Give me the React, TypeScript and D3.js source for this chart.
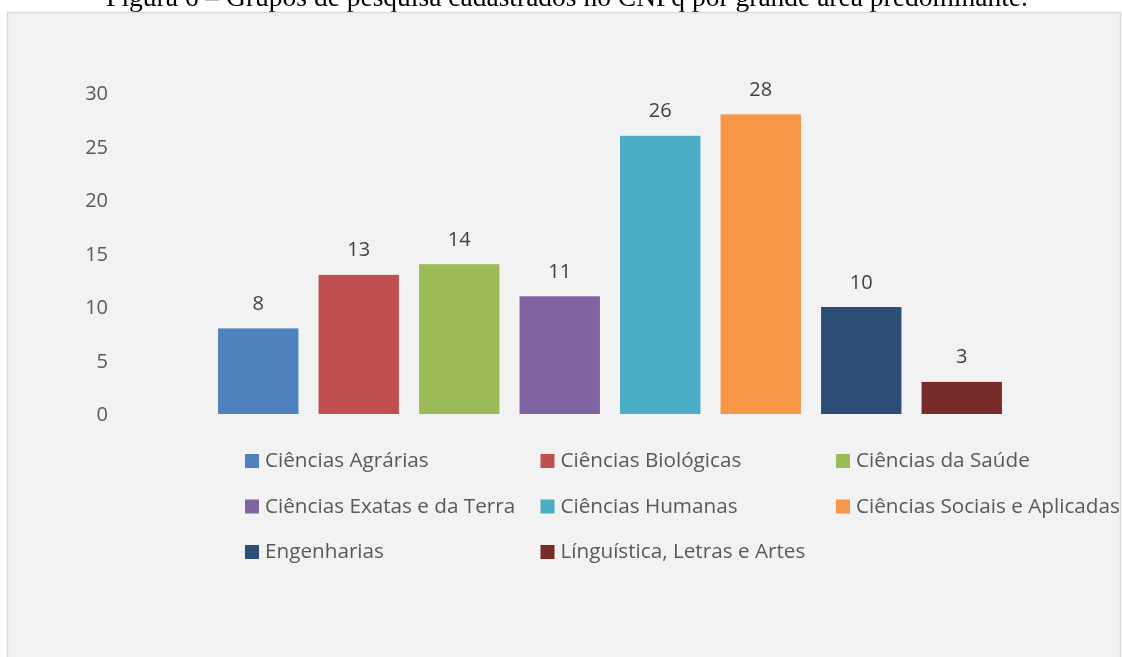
import { useEffect, useRef } from 'react'
import * as d3 from 'd3'

const categories = [
  'Ciências Agrárias',
  'Ciências Biológicas',
  'Ciências da Saúde',
  'Ciências Exatas e da Terra',
  'Ciências Humanas',
  'Ciências Sociais e Aplicadas',
  'Engenharias',
  'Línguística, Letras e Artes',
]
const values = [8, 13, 14, 11, 26, 28, 10, 3]
const yTicks = [0, 5, 10, 15, 20, 25, 30]
const title = 'Figura 6 – Grupos de pesquisa cadastrados no CNPq por grande área predominante.'

const palette = ['#4f81bd', '#c0504d', '#9bbb59', '#8064a2', '#4bacc6', '#f79646', '#2c4d75', '#772c2a']

export default function App() {
  const ref = useRef<SVGSVGElement>(null)

  useEffect(() => {
    const W = 1122
    const H = 657
    const svg = d3.select(ref.current)
    svg.selectAll('*').remove()
    svg.attr('width', W).attr('height', H)

    const font = "'Open Sans', sans-serif"

    svg.append('rect').attr('width', W).attr('height', H).attr('fill', '#ffffff')

    // caption, mostly cut off at the top
    svg.append('text')
      .attr('x', 567)
      .attr('y', 6)
      .attr('text-anchor', 'middle')
      .style('font-family', "'Liberation Serif', serif")
      .style('font-size', '27.5px')
      .style('fill', '#000')
      .text(title)

    // chart area
    svg.append('rect')
      .attr('x', 7.5)
      .attr('y', 12.5)
      .attr('width', 1113)
      .attr('height', 700)
      .attr('fill', '#f2f2f2')
      .attr('stroke', '#d9d9d9')
      .attr('stroke-width', 1.5)

    const x = d3.scaleBand<string>()
      .domain(categories)
      .range([208, 1012])
      .paddingInner(0.2)
      .paddingOuter(0.1)

    const y = d3.scaleLinear()
      .domain([0, 30])
      .range([414, 93])

    // Y axis labels
    svg.append('g')
      .selectAll('text')
      .data(yTicks)
      .join('text')
      .attr('x', 108)
      .attr('y', d => y(d) + 7)
      .attr('text-anchor', 'end')
      .style('font-family', font)
      .style('font-size', '20px')
      .style('fill', '#595959')
      .text(d => d)

    // bars
    svg.append('g')
      .selectAll('rect')
      .data(values)
      .join('rect')
      .attr('x', (d, i) => x(categories[i]) as number)
      .attr('y', d => y(d))
      .attr('width', x.bandwidth())
      .attr('height', d => y(0) - y(d))
      .attr('fill', (d, i) => palette[i])

    // value labels
    svg.append('g')
      .selectAll('text')
      .data(values)
      .join('text')
      .attr('x', (d, i) => (x(categories[i]) as number) + x.bandwidth() / 2)
      .attr('y', d => y(d) - 18.5)
      .attr('text-anchor', 'middle')
      .style('font-family', font)
      .style('font-size', '20px')
      .style('fill', '#404040')
      .text(d => d)

    // legend
    const legend = svg.append('g')
    const item = legend.selectAll('g')
      .data(categories)
      .join('g')
      .attr('transform', (d, i) => `translate(${245 + (i % 3) * 295.5}, ${467 + Math.floor(i / 3) * 45.5})`)

    item.append('rect')
      .attr('y', -13)
      .attr('width', 14)
      .attr('height', 14)
      .attr('fill', (d, i) => palette[i])

    item.append('text')
      .attr('x', 20)
      .style('font-family', font)
      .style('font-size', '20.7px')
      .style('fill', '#595959')
      .text(d => d)
  }, [])

  return (
    <div style={{ position: 'fixed', left: 0, top: 0, width: 1122, height: 657, overflow: 'hidden' }}>
      <svg ref={ref} style={{ display: 'block' }} />
    </div>
  )
}
